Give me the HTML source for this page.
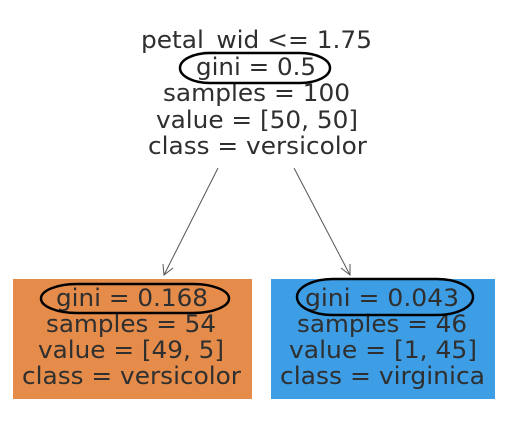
<!DOCTYPE html>
<html><head><style>html,body{margin:0;padding:0;background:#fff;}</style></head>
<body>
<svg width="520" height="416" xmlns="http://www.w3.org/2000/svg" font-family="DejaVu Sans, sans-serif" font-size="24" fill="#333">
<rect x="13" y="279" width="239" height="120" fill="#e58c4b"/>
<rect x="271" y="279" width="224" height="120" fill="#3d9ee5"/>
<g stroke="#555" stroke-width="1" fill="none">
<line x1="218" y1="168" x2="164" y2="275"/>
<polyline points="163,264 164,275 173,268"/>
<line x1="294" y1="168" x2="350" y2="275"/>
<polyline points="341,268 350,275 350,264"/>
</g>
<g fill="#2f2f2f">
<text x="141" y="48" textLength="231" lengthAdjust="spacingAndGlyphs">petal_wid &lt;= 1.75</text>
<text x="196" y="75" textLength="120" lengthAdjust="spacingAndGlyphs">gini = 0.5</text>
<text x="163" y="101" textLength="187" lengthAdjust="spacingAndGlyphs">samples = 100</text>
<text x="156" y="128" textLength="202" lengthAdjust="spacingAndGlyphs">value = [50, 50]</text>
<text x="148" y="154" textLength="219" lengthAdjust="spacingAndGlyphs">class = versicolor</text>
<text x="56" y="306" textLength="152" lengthAdjust="spacingAndGlyphs">gini = 0.168</text>
<text x="46" y="332" textLength="170" lengthAdjust="spacingAndGlyphs">samples = 54</text>
<text x="38" y="358" textLength="186" lengthAdjust="spacingAndGlyphs">value = [49, 5]</text>
<text x="22" y="384" textLength="219" lengthAdjust="spacingAndGlyphs">class = versicolor</text>
<text x="305" y="306" textLength="154" lengthAdjust="spacingAndGlyphs">gini = 0.043</text>
<text x="297" y="332" textLength="170" lengthAdjust="spacingAndGlyphs">samples = 46</text>
<text x="289" y="358" textLength="188" lengthAdjust="spacingAndGlyphs">value = [1, 45]</text>
<text x="280" y="384" textLength="205" lengthAdjust="spacingAndGlyphs">class = virginica</text>
</g>
<g fill="none" stroke="#000" stroke-width="2.5">
<rect x="180" y="53" width="150" height="30" rx="30" ry="15"/>
<rect x="41" y="284" width="188" height="29" rx="36" ry="14.5"/>
<rect x="297" y="279" width="176" height="36" rx="36" ry="18"/>
</g>
</svg>
</body></html>
